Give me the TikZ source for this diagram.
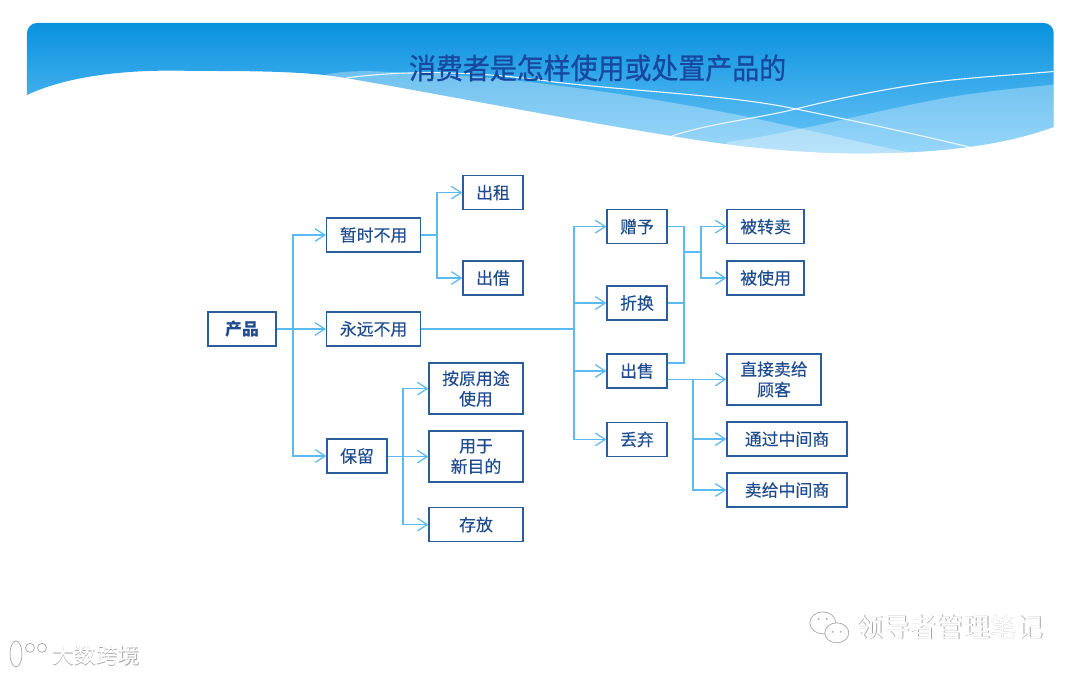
\documentclass[tikz,border=0pt]{standalone}
\usepackage{fontspec}
\setmainfont{Noto Sans CJK SC}
\newfontfamily\titlefont[FakeBold=0.7]{Noto Sans CJK SC}
\newfontfamily\boxfont[FakeBold=0.25]{Noto Sans CJK SC}
\usepackage{tikz}
\usetikzlibrary{arrows.meta,positioning,calc}
\definecolor{wireblue}{HTML}{5BBAF2}
\definecolor{boxblue}{HTML}{2B5C9C}
\definecolor{textblue}{HTML}{1E4C8E}
\definecolor{titleblue}{HTML}{17479E}
\definecolor{bannertop}{HTML}{0A92DF}
\definecolor{bannerlow}{HTML}{6CC6F7}
\newcommand{\bannerpath}{(27,95) .. controls (70,75) and (130,69) .. (194,71) .. controls (250,71) and (305,71) .. (346,78) .. controls (450,96) and (560,118) .. (672,136) .. controls (750,149) and (820,155) .. (886,153) .. controls (945,152) and (1005,145) .. (1054,127) -- (1054,33) arc (0:-90:10) -- (37,23) arc (-90:-180:10) -- cycle}

\begin{document}
\begin{tikzpicture}[
    box/.style={draw=boxblue, line width=0.9pt, minimum width=1.5cm, minimum height=0.85cm, inner sep=0pt, align=center, text=textblue, font=\boxfont\fontsize{12}{14.6}\selectfont},
    tall/.style={box, minimum height=1.275cm},
    wire/.style={draw=wireblue, line width=0.9pt},
    arr/.style={wire, -{Straight Barb[length=7pt,width=9pt,line width=0.9pt]}},
    mark shadow/.style={text=black!35},
    mark face/.style={text=white}
]
\useasboundingbox (0,0) rectangle (27,16.875);

% banner
\begin{scope}[x=0.025cm, y=-0.025cm, yshift=16.875cm]
\begin{scope}
\clip \bannerpath;
\shade[top color=bannertop, bottom color=bannerlow] (20,23) rectangle (1060,155);
\fill[white, opacity=0.32] (325,75) .. controls (345,70) and (375,71) .. (388,72) .. controls (500,74) and (640,95) .. (748,117) .. controls (820,132) and (890,150) .. (949,160) -- (320,160) -- cycle;
\fill[white, opacity=0.3] (727,142) .. controls (790,134) and (870,112) .. (935,100) .. controls (975,92) and (1020,88) .. (1060,84) -- (1060,160) -- (727,160) -- cycle;
\draw[white!85!bannerlow, line width=0.8pt] (346,78) .. controls (420,68) and (500,74) .. (554,82) .. controls (640,92) and (730,95) .. (796,109) .. controls (860,122) and (920,135) .. (973,148);
\draw[white!85!bannerlow, line width=0.8pt] (672,136) .. controls (712,123) and (755,119) .. (796,109) .. controls (840,98) and (890,88) .. (935,82) .. controls (975,77) and (1015,75) .. (1060,71);
\end{scope}
\end{scope}
\node[text=titleblue, font=\titlefont\fontsize{20.6}{24}\selectfont, inner sep=0pt, xscale=0.93] (title) at (14.94,15.175) {消费者是怎样使用或处置产品的};

% boxes
\node[box, minimum width=1.7cm, font=\fontsize{12}{14.6}\bfseries\selectfont] (product) at (6.05,8.65) {产品};
\node[box, minimum width=2.35cm] (pause) at (9.34,11) {暂时不用};
\node[box, minimum width=2.35cm] (never) at (9.34,8.65) {永远不用};
\node[box] (keep) at (8.925,5.475) {保留};
\node[box] (rent) at (12.325,12.06) {出租};
\node[box] (lend) at (12.325,9.925) {出借};
\node[tall, minimum width=2.35cm] (usual) at (11.9,7.16) {按原用途\\使用};
\node[tall, minimum width=2.35cm] (newuse) at (11.9,5.46) {用于\\新目的};
\node[box, minimum width=2.35cm] (store) at (11.9,3.76) {存放};
\node[box] (give) at (15.925,11.21) {赠予};
\node[box] (swap) at (15.925,9.3) {折换};
\node[box] (sell) at (15.925,7.6) {出售};
\node[box] (dump) at (15.925,5.89) {丢弃};
\node[box, minimum width=1.925cm] (resold) at (19.14,11.21) {被转卖};
\node[box, minimum width=1.925cm] (used) at (19.14,9.925) {被使用};
\node[tall, minimum width=2.35cm] (direct) at (19.35,7.39) {直接卖给\\顾客};
\node[box, minimum width=3cm] (viamid) at (19.675,5.9) {通过中间商};
\node[box, minimum width=3cm] (tomid) at (19.675,4.625) {卖给中间商};

% junctions
\coordinate (busa) at (7.325,8.65);
\coordinate (busb) at (10.925,11);
\coordinate (busc) at (10.075,5.46);
\coordinate (busd) at (14.35,8.65);
\coordinate (joine) at (17.1,10.575);
\coordinate (buse) at (17.525,10.575);
\coordinate (sellup) at ($(sell.east)+(0,0.2)$);
\coordinate (sellout) at (sell.east |- direct);
\coordinate (busf) at (17.325,7.39);

% connectors
\draw[arr] (product) -- (never);
\draw[arr] (busa) |- (pause);
\draw[arr] (busa) |- (keep);
\draw[arr] (busb) |- (rent);
\draw[arr] (busb) |- (lend);
\draw[wire] (pause) -- (pause -| busb);
\draw[arr] (keep.east |- newuse) -- (newuse);
\draw[arr] (busc) |- (usual);
\draw[arr] (busc) |- (store);
\draw[wire] (never) -- (busd);
\draw[arr] (busd) |- (give);
\draw[arr] (busd) |- (swap);
\draw[arr] (busd) |- (sell);
\draw[arr] (busd) |- (dump);
\draw[wire] (give) -| (joine);
\draw[wire] (swap) -| (joine);
\draw[wire] (sellup) -| (joine);
\draw[wire] (joine) -- (buse);
\draw[arr] (buse) |- (resold);
\draw[arr] (buse) |- (used);
\draw[arr] (sellout) -- (direct);
\draw[arr] (busf) |- (viamid);
\draw[arr] (busf) |- (tomid);

% marks
\begin{scope}[x=0.025cm, y=-0.025cm, yshift=16.875cm, line width=0.5pt, draw=black!35]
\draw[fill=white] (823,623) ellipse (13 and 11);
\draw[fill=white] (837,633) ellipse (12 and 10);
\fill[black!35] (819,619) circle (1) (827,619) circle (1) (833,632) circle (1) (841,632) circle (1);
\draw[fill=white] (16,654) ellipse (6 and 13);
\draw[fill=white] (30,648) circle (4.5);
\draw[fill=white] (42,648) circle (4.5);
\end{scope}
\node[mark shadow, font=\fontsize{19}{22}\selectfont, inner sep=0pt] (wechatback) at (23.77,1.18) {领导者管理笔记};
\node[mark face, font=\fontsize{19}{22}\selectfont, inner sep=0pt] (wechat) at (23.75,1.2) {领导者管理笔记};
\node[mark shadow, font=\fontsize{15.6}{18}\selectfont, inner sep=0pt] (siteback) at (2.42,0.48) {大数跨境};
\node[mark face, font=\fontsize{15.6}{18}\selectfont, inner sep=0pt] (site) at (2.4,0.5) {大数跨境};
\end{tikzpicture}
\end{document}
